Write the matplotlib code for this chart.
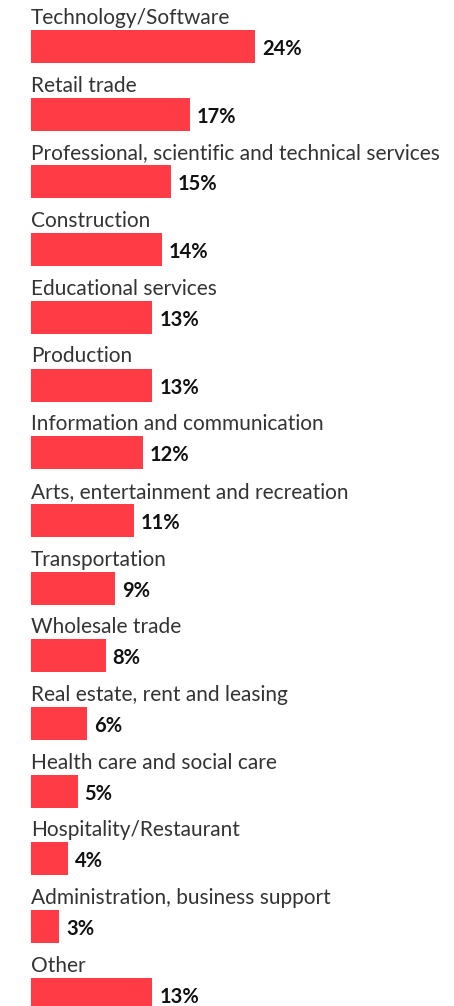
import matplotlib.pyplot as plt

# Industry shares (%)
categories = ['Technology/Software', 'Retail trade',
              'Professional, scientific and technical services', 'Construction',
              'Educational services', 'Production', 'Information and communication',
              'Arts, entertainment and recreation', 'Transportation', 'Wholesale trade',
              'Real estate, rent and leasing', 'Health care and social care',
              'Hospitality/Restaurant', 'Administration, business support', 'Other']
values = [24, 17, 15, 14, 13, 13, 12, 11, 9, 8, 6, 5, 4, 3, 13]

W, H = 454, 1006
px_per_pct = 9.33
row_px = 67.7
x0_px = 31
y0_px = 46.5

fig = plt.figure(figsize=(W / 100, H / 100), dpi=100)
ax = fig.add_axes([0, 0, 1, 1])

rows = list(range(len(categories)))
ax.barh(rows, values, height=33 / row_px, color='#ff3c46', left=0)

for i, (cat, v) in enumerate(zip(categories, values)):
    # category label above the bar
    ax.text(0, i - 22.5 / row_px, cat, fontsize=15.0, color='#333333',
            family='Lato', va='baseline', ha='left')
    # value label right of the bar
    ax.text(v + 7 / px_per_pct, i + 2.5 / row_px, f'{v}%', fontsize=14.5,
            fontweight='bold', color='#111111', family='Lato',
            va='center', ha='left')

ax.set_xlim(-x0_px / px_per_pct, (W - x0_px) / px_per_pct)
ax.set_ylim((H - y0_px) / row_px, -y0_px / row_px)
ax.axis('off')

fig.savefig('out.png', dpi=100, facecolor='white')
